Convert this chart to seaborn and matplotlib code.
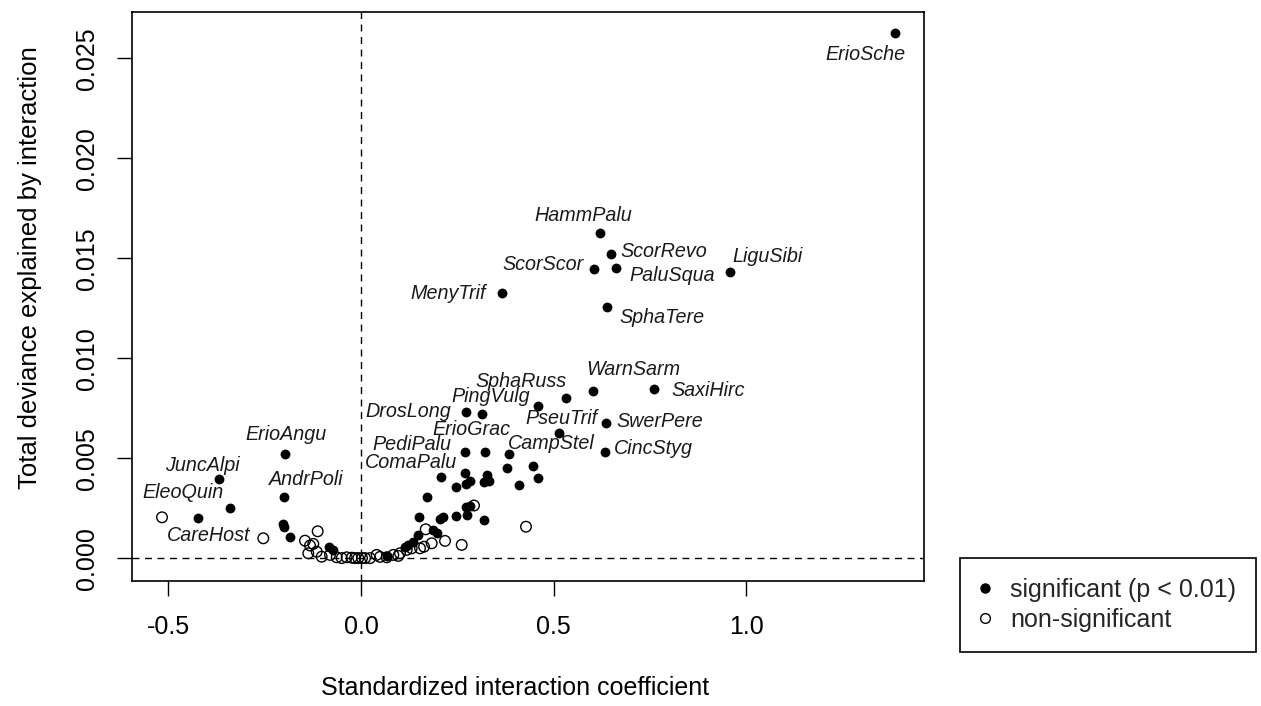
import numpy as np
import pandas as pd
import matplotlib
matplotlib.use("Agg")
import matplotlib.pyplot as plt
from matplotlib.lines import Line2D
import seaborn as sns

# ---------------- data ----------------
labelled_names = ["ErioSche", "HammPalu", "ScorRevo", "ScorScor", "PaluSqua", "LiguSibi",
                  "MenyTrif", "SphaTere", "WarnSarm", "SaxiHirc", "SphaRuss", "PingVulg",
                  "DrosLong", "SwerPere", "PseuTrif", "ErioGrac", "PediPalu", "CincStyg",
                  "CampStel", "ComaPalu", "ErioAngu", "JuncAlpi", "AndrPoli", "EleoQuin",
                  "CareHost"]
labelled_coef = [1.3856, 0.6201, 0.6479, 0.6053, 0.6609, 0.9575,
                 0.3666, 0.6375, 0.6012, 0.7610, 0.5311, 0.4585,
                 0.2717, 0.6357, 0.5145, 0.3225, 0.2691, 0.6331,
                 0.3853, 0.2706, -0.1972, -0.3677, -0.1990, -0.4229,
                 -0.2535]
labelled_dev = [0.02628, 0.01625, 0.01520, 0.01447, 0.01453, 0.01433,
                0.01325, 0.01258, 0.00838, 0.00845, 0.00803, 0.00762,
                0.00730, 0.00675, 0.00625, 0.00533, 0.00530, 0.00530,
                0.00520, 0.00428, 0.00522, 0.00395, 0.00308, 0.00202,
                0.00100]
labelled_sig = [True] * 24 + [False]

other_sig_coef = [-0.3399, -0.2011, -0.1985, -0.1855, -0.0830, -0.0727,
                  0.3147, 0.2068, 0.3262, 0.3781, 0.4463, 0.4600, 0.2836, 0.2732,
                  0.2473, 0.3329, 0.3199, 0.4105, 0.1725, 0.2828, 0.2724, 0.2743,
                  0.2457, 0.2135, 0.2050, 0.1513, 0.3199, 0.1876, 0.1972, 0.1487,
                  0.1357, 0.1227, 0.1142, 0.0667]
other_sig_dev = [0.00253, 0.00174, 0.00158, 0.00107, 0.00057, 0.00042,
                 0.00720, 0.00408, 0.00417, 0.00453, 0.00460, 0.00400, 0.00385, 0.00372,
                 0.00358, 0.00388, 0.00379, 0.00367, 0.00308, 0.00262, 0.00255, 0.00217,
                 0.00212, 0.00205, 0.00195, 0.00205, 0.00190, 0.00142, 0.00127, 0.00117,
                 0.00083, 0.00067, 0.00058, 0.00012]

nonsig_coef = [-0.5163, -0.1124, -0.1453, -0.1238, -0.1323, -0.1367, -0.1149, -0.1020,
               -0.0804, -0.0631, -0.0501, -0.0371, -0.0241, -0.0156, -0.0070, 0.0026,
               0.0104, 0.0234, 0.0407, 0.0493, 0.0667, 0.0838, 0.0968, 0.1012,
               0.1186, 0.1316, 0.1531, 0.1679, 0.1834, 0.1635, 0.2180, 0.2613,
               0.2932, 0.4281]
nonsig_dev = [0.00205, 0.00135, 0.00088, 0.00072, 0.00064, 0.00025, 0.00033, 0.00008,
              0.00017, 0.00005, 0.00001, 0.00005, 0.00003, 0.00001, 0.00001, 0.00001,
              0.00001, 0.00001, 0.00017, 0.00007, 0.00005, 0.00017, 0.00012, 0.00025,
              0.00042, 0.00050, 0.00050, 0.00145, 0.00075, 0.00058, 0.00087, 0.00067,
              0.00264, 0.00158]

x_ticks = [-0.5, 0.0, 0.5, 1.0]
x_tick_labels = ["-0.5", "0.0", "0.5", "1.0"]
y_ticks = [0.000, 0.005, 0.010, 0.015, 0.020, 0.025]
y_tick_labels = ["0.000", "0.005", "0.010", "0.015", "0.020", "0.025"]

# label offsets (display pixels, +x right, +y down) -- layout only
label_offsets = {
    "ErioSche": (-30, 22), "HammPalu": (-17, -18), "ScorRevo": (53, -3),
    "ScorScor": (-51, -4), "PaluSqua": (56, 8), "LiguSibi": (37, -15),
    "MenyTrif": (-54, 0), "SphaTere": (55, 11), "WarnSarm": (41, -21),
    "SaxiHirc": (54, 1), "SphaRuss": (-45, -16), "PingVulg": (-47, -9),
    "DrosLong": (-57, -1), "SwerPere": (54, -2), "PseuTrif": (2, -15),
    "ErioGrac": (-14, -22), "PediPalu": (-53, -8), "CincStyg": (48, -4),
    "CampStel": (42, -11), "ComaPalu": (-54, -10), "ErioAngu": (1, -19),
    "JuncAlpi": (-17, -14), "AndrPoli": (22, -17), "EleoQuin": (-15, -25),
    "CareHost": (-55, -3),
}

# ---------------- frame ----------------
df = pd.concat([
    pd.DataFrame({"coef": labelled_coef, "dev": labelled_dev, "sig": labelled_sig}),
    pd.DataFrame({"coef": other_sig_coef, "dev": other_sig_dev, "sig": True}),
    pd.DataFrame({"coef": nonsig_coef, "dev": nonsig_dev, "sig": False}),
], ignore_index=True)

sns.set_style("white")
plt.rcParams["font.family"] = ["Liberation Sans", "DejaVu Sans"]

W, H = 1261, 706
fig = plt.figure(figsize=(W / 100, H / 100), dpi=100)
fig.patch.set_facecolor("white")
ax = fig.add_axes([132.3 / W, 1 - 580.5 / H, (924 - 132.3) / W, (580.5 - 11.7) / H])

ax.axvline(0, color="black", lw=1.0, ls=(0, (5, 4)), zorder=1)
ax.axhline(0, color="black", lw=1.0, ls=(0, (5, 4)), zorder=1)

sns.scatterplot(data=df[~df["sig"]], x="coef", y="dev", s=58, facecolor="none",
                edgecolor="black", linewidth=1.0, ax=ax, legend=False, zorder=2)
sns.scatterplot(data=df[df["sig"]], x="coef", y="dev", s=50, color="black",
                edgecolor="black", linewidth=0, ax=ax, legend=False, zorder=3)

for name, x, y in zip(labelled_names, labelled_coef, labelled_dev):
    dx, dy = label_offsets[name]
    ax.annotate(name, xy=(x, y), xytext=(dx, -dy), textcoords="offset pixels",
                ha="center", va="center", fontsize=14.2, fontstyle="italic",
                color="#1a1a1a")

ax.set_xlim(-0.5934, 1.4608)
ax.set_ylim(-0.00111, 0.02733)
ax.set_xticks(x_ticks)
ax.set_xticklabels(x_tick_labels)
ax.set_yticks(y_ticks)
ax.set_yticklabels(y_tick_labels, rotation=90, va="center")
ax.tick_params(axis="both", direction="out", length=10.8, width=1.0, color="black",
               labelsize=18, labelcolor="black", bottom=True, left=True)
ax.tick_params(axis="x", pad=14)
ax.tick_params(axis="y", pad=13)
for sp in ax.spines.values():
    sp.set_visible(True)
    sp.set_color("black")
    sp.set_linewidth(1.2)

ax.set_xlabel("Standardized interaction coefficient", fontsize=18, color="black")
ax.set_ylabel("Total deviance explained by interaction", fontsize=18.5, color="black")
ax.xaxis.set_label_coords((515 - 132.3) / (924 - 132.3), -(688 - 580.5) / (580.5 - 11.7))
ax.xaxis.label.set_va("center")
ax.yaxis.set_label_coords(-(132.3 - 30) / (924 - 132.3), (580.5 - 268) / (580.5 - 11.7))
ax.yaxis.label.set_va("center")

handles = [
    Line2D([], [], marker="o", linestyle="none", markerfacecolor="black",
           markeredgecolor="black", markersize=6.5),
    Line2D([], [], marker="o", linestyle="none", markerfacecolor="none",
           markeredgecolor="black", markeredgewidth=1.0, markersize=7),
]
leg = fig.legend(handles, ["significant (p < 0.01)", "non-significant"],
                 loc="upper left", bbox_to_anchor=(960 / W, 1 - 558 / H),
                 bbox_transform=fig.transFigure, frameon=True, fancybox=False,
                 edgecolor="black", framealpha=1, fontsize=18, labelspacing=0.22,
                 borderpad=0.8, handlelength=0.4, handletextpad=0.8, borderaxespad=0)
leg.get_frame().set_linewidth(1.2)

fig.savefig("out.png", dpi=100, facecolor="white")
